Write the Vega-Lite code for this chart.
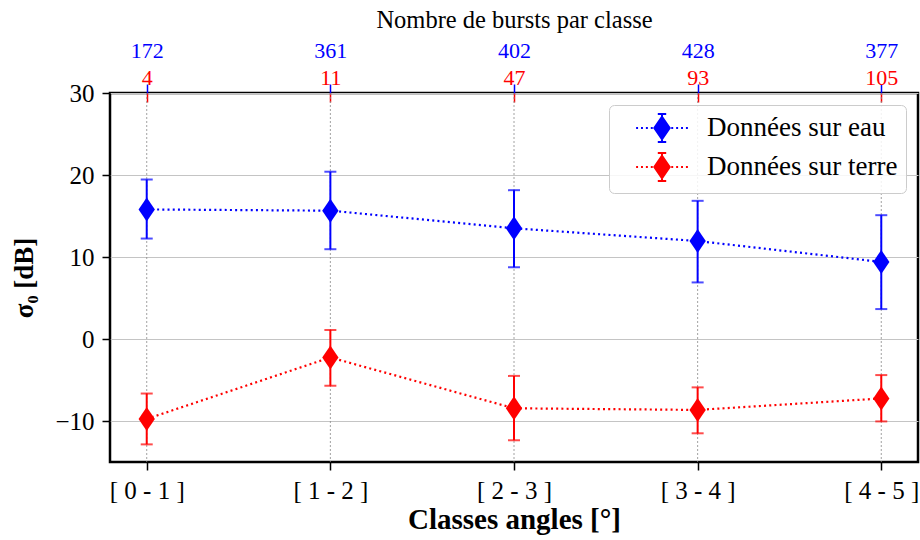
{
  "$schema": "https://vega.github.io/schema/vega-lite/v6.json",
  "width": 808,
  "height": 369,
  "autosize": {"type": "none"},
  "padding": {"left": 110, "top": 93, "right": 2, "bottom": 78},
  "background": "white",
  "datasets": {
    "mesures": [
      {"classe": "[ 0 - 1 ]", "serie": "Données sur eau", "moyenne": 15.8, "bas": 12.25, "haut": 19.45},
      {"classe": "[ 1 - 2 ]", "serie": "Données sur eau", "moyenne": 15.65, "bas": 10.95, "haut": 20.4},
      {"classe": "[ 2 - 3 ]", "serie": "Données sur eau", "moyenne": 13.5, "bas": 8.75, "haut": 18.15},
      {"classe": "[ 3 - 4 ]", "serie": "Données sur eau", "moyenne": 11.95, "bas": 6.9, "haut": 16.85},
      {"classe": "[ 4 - 5 ]", "serie": "Données sur eau", "moyenne": 9.4, "bas": 3.65, "haut": 15.1},
      {"classe": "[ 0 - 1 ]", "serie": "Données sur terre", "moyenne": -9.75, "bas": -12.85, "haut": -6.65},
      {"classe": "[ 1 - 2 ]", "serie": "Données sur terre", "moyenne": -2.25, "bas": -5.7, "haut": 1.1},
      {"classe": "[ 2 - 3 ]", "serie": "Données sur terre", "moyenne": -8.45, "bas": -12.35, "haut": -4.5},
      {"classe": "[ 3 - 4 ]", "serie": "Données sur terre", "moyenne": -8.65, "bas": -11.5, "haut": -5.9},
      {"classe": "[ 4 - 5 ]", "serie": "Données sur terre", "moyenne": -7.25, "bas": -10.05, "haut": -4.4}
    ],
    "effectifs": [
      {"classe": "[ 0 - 1 ]", "n_eau": 172, "n_terre": 4},
      {"classe": "[ 1 - 2 ]", "n_eau": 361, "n_terre": 11},
      {"classe": "[ 2 - 3 ]", "n_eau": 402, "n_terre": 47},
      {"classe": "[ 3 - 4 ]", "n_eau": 428, "n_terre": 93},
      {"classe": "[ 4 - 5 ]", "n_eau": 377, "n_terre": 105}
    ]
  },
  "config": {
    "view": {"stroke": "black", "strokeWidth": 2.5},
    "font": "Liberation Serif",
    "axis": {
      "labelFont": "Liberation Serif",
      "titleFont": "Liberation Serif",
      "labelColor": "black",
      "titleColor": "black",
      "tickColor": "black",
      "tickWidth": 1.5,
      "tickSize": 8,
      "domain": false,
      "labelFontSize": 25,
      "titleFontSize": 25
    }
  },
  "layer": [
    {
      "data": {"name": "effectifs"},
      "mark": {"type": "rule", "color": "#8a8a8a", "strokeWidth": 0.8, "strokeDash": [2, 2]},
      "encoding": {
        "x": {
          "field": "n_eau",
          "type": "nominal",
          "sort": null,
          "scale": {"type": "point", "padding": 0.2},
          "axis": {
            "orient": "top",
            "labelColor": "#0000ff",
            "tickColor": "#0000ff",
            "tickSize": 9,
            "labelPadding": 22,
            "labelFontSize": 22,
            "labelAngle": 0,
            "grid": false,
            "title": "Nombre de bursts par classe",
            "titleFontSize": 24.5,
            "titleFontWeight": "normal",
            "titlePadding": 7
          }
        }
      }
    },
    {
      "data": {"name": "effectifs"},
      "mark": {"type": "rule", "strokeOpacity": 0},
      "encoding": {
        "x": {
          "field": "n_terre",
          "type": "nominal",
          "sort": null,
          "scale": {"type": "point", "padding": 0.2},
          "axis": {
            "orient": "top",
            "offset": -9,
            "labelColor": "#ff0000",
            "tickColor": "#ff0000",
            "tickSize": 9,
            "labelPadding": 4,
            "labelFontSize": 22,
            "labelAngle": 0,
            "grid": false,
            "title": null
          }
        }
      }
    },
    {
      "data": {"name": "mesures"},
      "encoding": {
        "x": {
          "field": "classe",
          "type": "nominal",
          "sort": null,
          "scale": {"type": "point", "padding": 0.2},
          "axis": {
            "orient": "bottom",
            "labelAngle": 0,
            "labelPadding": 8,
            "grid": false,
            "title": "Classes angles [°]",
            "titleFontWeight": "bold",
            "titleFontSize": 29,
            "titlePadding": 2
          }
        },
        "color": {
          "field": "serie",
          "type": "nominal",
          "scale": {"domain": ["Données sur eau", "Données sur terre"], "range": ["#0000ff", "#ff0000"]},
          "legend": {
            "title": null,
            "orient": "top-right",
            "offset": 12,
            "padding": 8,
            "fillColor": "rgba(255,255,255,0.85)",
            "strokeColor": "#cccccc",
            "cornerRadius": 5,
            "labelFont": "Liberation Serif",
            "labelFontSize": 27,
            "labelColor": "black",
            "labelLimit": 500,
            "labelOffset": 30,
            "rowPadding": 3,
            "symbolOffset": 30,
            "symbolSize": 784,
            "symbolType": "M-1.85,0H-1.71M-1.5,0H-1.36M-1.15,0H-1.01M-0.8,0H-0.66M0.66,0H0.8M1.01,0H1.15M1.36,0H1.5M1.71,0H1.85M0,-1V1M-0.3,-1H0.3M-0.3,1H0.3M0,-0.8L0.55,0L0,0.8L-0.55,0Z",
            "encode": {
              "symbols": {
                "update": {
                  "shape": {"value": "M-1.85,0H-1.71M-1.5,0H-1.36M-1.15,0H-1.01M-0.8,0H-0.66M0.66,0H0.8M1.01,0H1.15M1.36,0H1.5M1.71,0H1.85M0,-1V1M-0.3,-1H0.3M-0.3,1H0.3M0,-0.8L0.55,0L0,0.8L-0.55,0Z"},
                  "size": {"value": 784},
                  "fill": {"scale": "color", "field": "value"},
                  "stroke": {"scale": "color", "field": "value"},
                  "strokeWidth": {"value": 2},
                  "opacity": {"value": 1},
                  "fillOpacity": {"value": 1},
                  "strokeOpacity": {"value": 1}
                }
              }
            }
          }
        }
      },
      "layer": [
        {
          "mark": {"type": "line", "strokeWidth": 2.2, "strokeDash": [2, 3.2]},
          "encoding": {
            "y": {
              "field": "moyenne",
              "type": "quantitative",
              "scale": {"domain": [-15, 30], "nice": false, "zero": false},
              "axis": {
                "values": [-10, 0, 10, 20, 30],
                "grid": true,
                "gridColor": "#c4c4c4",
                "gridWidth": 1,
                "labelPadding": 8,
                "title": "σ₀ [dB]",
                "titleFontWeight": "bold",
                "titleFontSize": 27,
                "titlePadding": 16
              }
            }
          }
        },
        {
          "mark": {"type": "rule", "strokeWidth": 2},
          "encoding": {
            "y": {"field": "bas", "type": "quantitative"},
            "y2": {"field": "haut"}
          }
        },
        {
          "mark": {"type": "tick", "orient": "horizontal", "size": 12, "thickness": 2},
          "encoding": {"y": {"field": "bas", "type": "quantitative"}}
        },
        {
          "mark": {"type": "tick", "orient": "horizontal", "size": 12, "thickness": 2},
          "encoding": {"y": {"field": "haut", "type": "quantitative"}}
        },
        {
          "mark": {
            "type": "point",
            "filled": true,
            "opacity": 1,
            "size": 576,
            "shape": "M0,-1L0.68,0L0,1L-0.68,0Z"
          },
          "encoding": {"y": {"field": "moyenne", "type": "quantitative"}}
        }
      ]
    }
  ],
  "resolve": {"scale": {"x": "independent"}, "axis": {"x": "independent"}}
}
